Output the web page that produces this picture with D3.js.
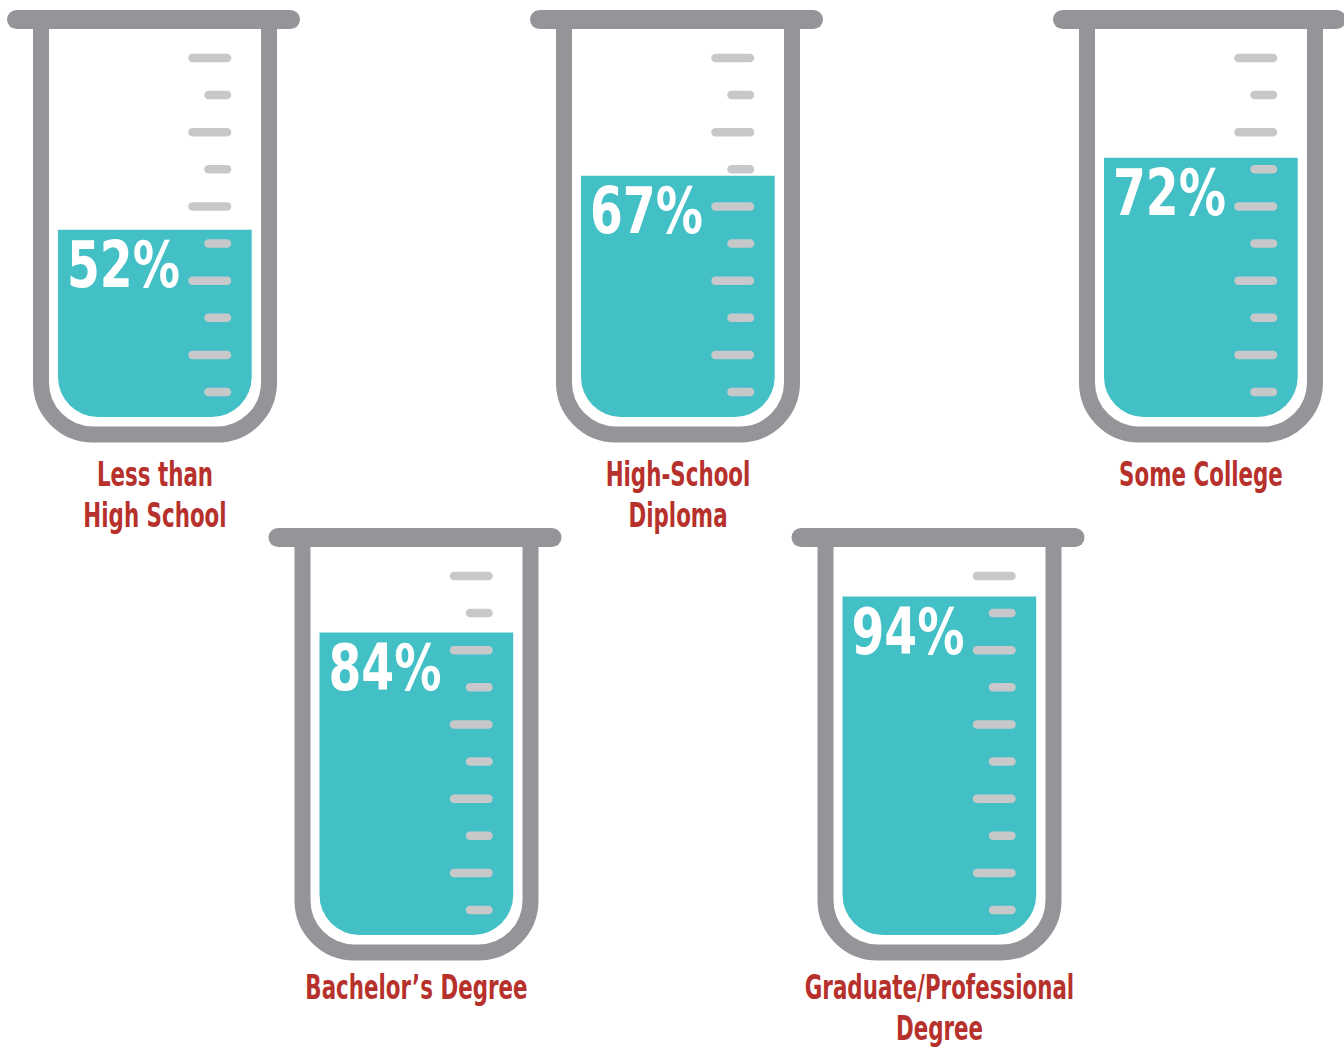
<!DOCTYPE html>
<html>
<head>
<meta charset="utf-8">
<script src="https://cdn.jsdelivr.net/npm/d3@7"></script>
<style>
  html, body { margin: 0; padding: 0; background: #ffffff; }
  svg { display: block; }
</style>
</head>
<body>
<svg id="chart" width="1344" height="1047"></svg>
<script>
// ---- data ----
const categories = [
  ["Less than", "High School"],
  ["High-School", "Diploma"],
  ["Some College"],
  ["Bachelor’s Degree"],
  ["Graduate/Professional", "Degree"]
];
const values = [52, 67, 72, 84, 94];
const gradTicks = d3.range(10); // 10 graduation marks per beaker, long/short alternating

// ---- style ----
const wallColor = "#939598";
const tickColor = "#c7c8ca";
const liquidColor = "#42c0c6";
const labelColor = "#b7312c";
const condFont = "'DejaVu Sans Condensed', 'Liberation Sans Narrow', sans-serif";

const svg = d3.select("#chart");

// level scale: percent -> y inside a beaker (local coordinates)
const yLevel = d3.scaleLinear().domain([0, 100]).range([417, 57]);
// graduation mark scale
const yTick = d3.scaleLinear().domain([0, 9]).range([58, 392]);

const colStep = 523, rowStep = 518;

const data = values.map((v, i) => {
  const row = i < 3 ? 0 : 1;
  const col = i < 3 ? i : i - 3;
  return { value: v, label: categories[i], row, x: col * colStep + row * colStep / 2, y: row * rowStep };
});

const g = svg.selectAll("g.beaker").data(data).join("g")
  .attr("class", "beaker")
  .attr("transform", d => `translate(${d.x},${d.y})`);

// liquid
const liqL = 58, liqR = 251.7, liqB = 417, liqRad = 40;
g.append("path")
  .attr("fill", liquidColor)
  .attr("d", d => {
    const top = yLevel(d.value);
    return `M${liqL},${top} V${liqB - liqRad} A${liqRad},${liqRad} 0 0 0 ${liqL + liqRad},${liqB}
            H${liqR - liqRad} A${liqRad},${liqRad} 0 0 0 ${liqR},${liqB - liqRad} V${top} Z`;
  });

// graduation marks
g.selectAll("line.grad").data(gradTicks).join("line")
  .attr("class", "grad")
  .attr("x1", t => t % 2 === 0 ? 192.5 : 208.5)
  .attr("x2", 227)
  .attr("y1", t => yTick(t))
  .attr("y2", t => yTick(t))
  .attr("stroke", tickColor)
  .attr("stroke-width", 8.5)
  .attr("stroke-linecap", "round");

// wall
const wl = 41, wr = 269, wb = 434.5, wrad = 52;
g.append("path")
  .attr("fill", "none")
  .attr("stroke", wallColor)
  .attr("stroke-width", 16)
  .attr("d", `M${wl},20 V${wb - wrad} A${wrad},${wrad} 0 0 0 ${wl + wrad},${wb} H${wr - wrad} A${wrad},${wrad} 0 0 0 ${wr},${wb - wrad} V20`);

// rim
g.append("rect")
  .attr("x", 7).attr("y", 10)
  .attr("width", 293).attr("height", 19)
  .attr("rx", 9.5)
  .attr("fill", wallColor);

// percent text
g.append("text")
  .attr("transform", d => `translate(${liqL + 9},${yLevel(d.value) + 57}) scale(0.82,1)`)
  .attr("fill", "#ffffff")
  .attr("font-family", condFont)
  .attr("font-weight", "bold")
  .attr("font-size", 64)
  .text(d => d.value + "%");

// category labels
g.append("text")
  .attr("text-anchor", "middle")
  .attr("fill", labelColor)
  .attr("font-family", condFont)
  .attr("font-weight", "bold")
  .attr("font-size", 34)
  .attr("transform", d => `translate(155,${486 - d.row * 5}) scale(0.70,1)`)
  .selectAll("tspan").data(d => d.label).join("tspan")
  .attr("x", 0)
  .attr("dy", (t, i) => i === 0 ? 0 : 41)
  .text(t => t);
</script>
</body>
</html>
